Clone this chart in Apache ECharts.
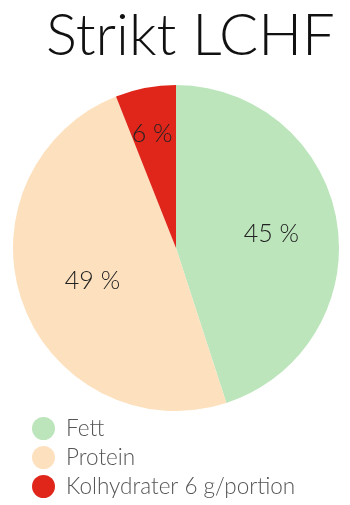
<!DOCTYPE html>
<html><head><meta charset="utf-8">
<script src="https://cdn.jsdelivr.net/npm/echarts@6/dist/echarts.min.js"></script>
<style>html,body{margin:0;padding:0;background:#fff}#c{width:350px;height:505px}</style>
</head><body><div id="c"></div>
<script>
const titleText = 'Strikt LCHF';
const categories = ['Fett', 'Protein', 'Kolhydrater 6 g/portion'];
const values = [45, 49, 6];
const colors = ['#bce5bb', '#fde1be', '#e0261b'];
const labelShift = [[12, -1], [-4, 4], [-8, -31]];

const chart = echarts.init(document.getElementById('c'));
chart.setOption({
  animation: false,
  title: {
    text: titleText, left: 41, top: 2,
    textStyle: { fontFamily: 'Lato', fontWeight: 300, fontSize: 58, color: '#111' }
  },
  legend: {
    orient: 'vertical', left: 27, top: 412, height: 92, icon: 'circle',
    itemWidth: 23, itemHeight: 23, itemGap: 6,
    textStyle: { fontFamily: 'Lato', fontWeight: 300, fontSize: 22.5, color: '#555', padding: [0, 0, 0, 6] },
    data: categories
  },
  series: [{
    type: 'pie', center: [176, 248], radius: [0, 163], startAngle: 90, clockwise: true,
    silent: true,
    label: {
      position: 'inside', formatter: '{c} %',
      fontFamily: 'Lato', fontWeight: 300, fontSize: 25, color: '#222'
    },
    labelLayout: function (p) { const s = labelShift[p.dataIndex]; return { dx: s[0], dy: s[1] }; },
    itemStyle: { borderWidth: 0 },
    data: categories.map((n, i) => ({ name: n, value: values[i], itemStyle: { color: colors[i] } }))
  }]
});
</script></body></html>
